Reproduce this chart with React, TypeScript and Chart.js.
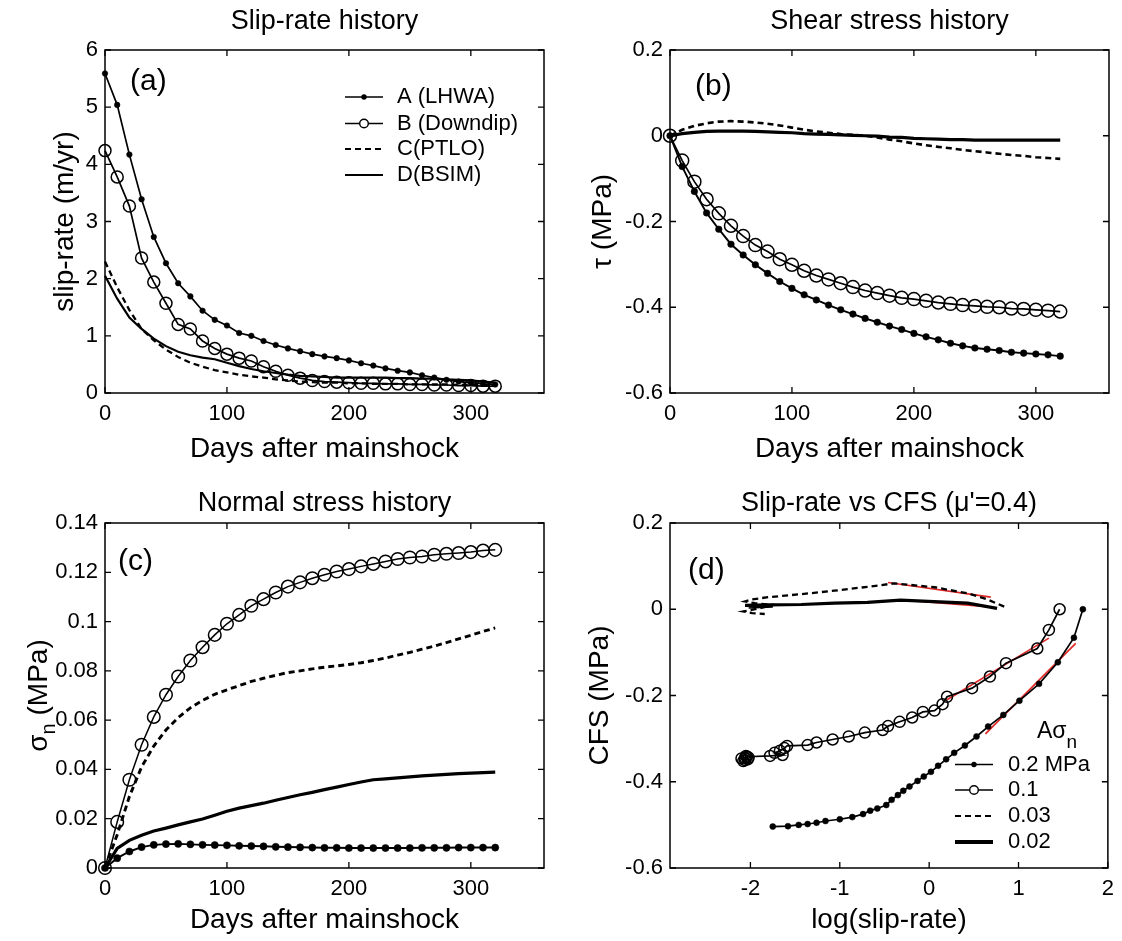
import React, { useEffect, useRef } from 'react';
import { Chart, registerables } from 'chart.js';

Chart.register(...registerables);

const FONT = "'Liberation Sans', Arial, Helvetica, sans-serif";
Chart.defaults.font.family = FONT;
Chart.defaults.color = '#000';

// ---------------- data ----------------
const days = [0, 10, 20, 30, 40, 50, 60, 70, 80, 90, 100, 110, 120, 130, 140, 150, 160, 170, 180, 190, 200, 210, 220, 230, 240, 250, 260, 270, 280, 290, 300, 310, 320];

// (a) slip-rate (m/yr)
const slipA = [5.59, 5.04, 4.17, 3.39, 2.73, 2.27, 1.92, 1.69, 1.44, 1.28, 1.18, 1.05, 1.0, 0.91, 0.84, 0.78, 0.73, 0.68, 0.64, 0.61, 0.57, 0.52, 0.48, 0.43, 0.39, 0.36, 0.31, 0.27, 0.23, 0.2, 0.18, 0.16, 0.15];
const slipB = [4.24, 3.78, 3.27, 2.36, 1.94, 1.57, 1.2, 1.12, 0.91, 0.78, 0.68, 0.61, 0.56, 0.46, 0.38, 0.31, 0.26, 0.22, 0.2, 0.19, 0.18, 0.17, 0.17, 0.16, 0.16, 0.15, 0.15, 0.14, 0.14, 0.13, 0.13, 0.12, 0.12];
const slipC = [2.3, 1.85, 1.45, 1.12, 0.92, 0.76, 0.63, 0.53, 0.46, 0.4, 0.36, 0.32, 0.29, 0.27, 0.24, 0.22, 0.2, 0.19, 0.18, 0.18, 0.17, 0.17, 0.16, 0.16, 0.16, 0.15, 0.15, 0.15, 0.15, 0.14, 0.14, 0.14, 0.14];
const slipD = [2.05, 1.65, 1.32, 1.12, 0.95, 0.82, 0.72, 0.66, 0.62, 0.59, 0.53, 0.47, 0.42, 0.38, 0.35, 0.32, 0.3, 0.29, 0.28, 0.27, 0.27, 0.27, 0.27, 0.27, 0.26, 0.26, 0.25, 0.25, 0.24, 0.23, 0.22, 0.2, 0.18];

// (b) shear stress (MPa)
const tauA = [0, -0.072, -0.13, -0.18, -0.218, -0.253, -0.278, -0.301, -0.321, -0.34, -0.356, -0.371, -0.383, -0.395, -0.406, -0.416, -0.426, -0.435, -0.444, -0.452, -0.461, -0.469, -0.476, -0.484, -0.49, -0.495, -0.498, -0.501, -0.505, -0.507, -0.509, -0.511, -0.514];
const tauB = [0, -0.058, -0.107, -0.148, -0.181, -0.21, -0.234, -0.255, -0.27, -0.288, -0.301, -0.315, -0.326, -0.335, -0.344, -0.353, -0.361, -0.367, -0.373, -0.378, -0.381, -0.385, -0.389, -0.392, -0.395, -0.397, -0.399, -0.4, -0.403, -0.404, -0.406, -0.408, -0.41];
const tauC = [0, 0.014, 0.023, 0.029, 0.033, 0.034, 0.033, 0.031, 0.028, 0.024, 0.019, 0.014, 0.01, 0.007, 0.004, 0.002, 0.0, -0.004, -0.009, -0.013, -0.018, -0.022, -0.026, -0.029, -0.033, -0.036, -0.039, -0.042, -0.045, -0.047, -0.05, -0.052, -0.054];
const tauD = [0, 0.005, 0.008, 0.01, 0.011, 0.011, 0.011, 0.01, 0.009, 0.008, 0.007, 0.005, 0.004, 0.003, 0.002, 0.001, 0.0, -0.001, -0.003, -0.004, -0.006, -0.007, -0.008, -0.009, -0.009, -0.01, -0.01, -0.01, -0.01, -0.01, -0.01, -0.01, -0.01];

// (c) normal stress (MPa)
const sigA = [0, 0.004, 0.0067, 0.0085, 0.0094, 0.0097, 0.0098, 0.0096, 0.0094, 0.0093, 0.0092, 0.009, 0.0089, 0.0088, 0.0086, 0.0085, 0.0084, 0.0083, 0.0082, 0.0082, 0.0081, 0.0081, 0.0081, 0.0081, 0.0081, 0.0081, 0.0082, 0.0082, 0.0082, 0.0083, 0.0083, 0.0083, 0.0083];
const sigB = [0, 0.0187, 0.0358, 0.05, 0.0613, 0.0703, 0.0777, 0.0842, 0.0896, 0.0946, 0.0991, 0.1027, 0.1064, 0.1091, 0.1118, 0.1142, 0.1159, 0.1176, 0.119, 0.1203, 0.1213, 0.1224, 0.1234, 0.1244, 0.1254, 0.126, 0.1264, 0.1271, 0.1275, 0.1278, 0.1282, 0.1288, 0.1291];
const sigC = [0, 0.0135, 0.029, 0.041, 0.0495, 0.056, 0.061, 0.065, 0.068, 0.0705, 0.0723, 0.074, 0.0757, 0.077, 0.0782, 0.0793, 0.08, 0.0808, 0.0815, 0.082, 0.0826, 0.0833, 0.0842, 0.0852, 0.0864, 0.0875, 0.0888, 0.09, 0.0915, 0.093, 0.0944, 0.096, 0.0974];
const sigD = [0, 0.008, 0.0112, 0.0133, 0.015, 0.0162, 0.0175, 0.0187, 0.0199, 0.0214, 0.023, 0.0243, 0.0253, 0.0263, 0.0275, 0.0286, 0.0297, 0.0307, 0.0318, 0.0328, 0.0339, 0.0349, 0.0358, 0.0362, 0.0366, 0.037, 0.0374, 0.0377, 0.038, 0.0383, 0.0385, 0.0387, 0.0389];

// (d) log(slip-rate) vs CFS
const logRateA = [1.72, 1.62, 1.44, 1.23, 1.01, 0.83, 0.66, 0.53, 0.4, 0.28, 0.19, 0.1, 0.02, -0.06, -0.13, -0.22, -0.29, -0.35, -0.42, -0.48, -0.58, -0.66, -0.74, -0.86, -1.0, -1.16, -1.26, -1.36, -1.46, -1.58, -1.75];
const cfsA = [0, -0.066, -0.123, -0.173, -0.212, -0.245, -0.272, -0.295, -0.316, -0.333, -0.348, -0.363, -0.377, -0.388, -0.398, -0.411, -0.421, -0.431, -0.442, -0.454, -0.462, -0.467, -0.475, -0.482, -0.487, -0.491, -0.495, -0.498, -0.5, -0.503, -0.504];
const logRateB = [1.46, 1.34, 1.21, 0.86, 0.68, 0.48, 0.2, 0.15, 0.06, -0.07, -0.19, -0.33, -0.46, -0.52, -0.72, -0.9, -1.08, -1.26, -1.36, -1.59, -1.62, -1.67, -1.73, -1.64, -1.78, -2.04, -2.1, -2.06, -2.02, -2.08, -2.05, -2.03, -2.06];
const cfsB = [0, -0.048, -0.091, -0.125, -0.156, -0.183, -0.203, -0.22, -0.235, -0.238, -0.251, -0.261, -0.271, -0.28, -0.286, -0.295, -0.302, -0.309, -0.315, -0.317, -0.322, -0.328, -0.333, -0.338, -0.34, -0.342, -0.346, -0.35, -0.344, -0.352, -0.34, -0.348, -0.345];
const logRateC = [0.84, 0.65, 0.43, 0.06, -0.39, -0.69, -1.06, -1.43, -1.8, -1.98, -2.06, -1.95, -1.74, -1.88, -2.08, -1.98, -1.84];
const cfsC = [0.006, 0.023, 0.037, 0.051, 0.06, 0.052, 0.043, 0.035, 0.028, 0.023, 0.018, 0.014, 0.01, 0.003, -0.005, -0.009, -0.011];
const logRateD = [0.76, 0.43, -0.32, -0.69, -1.06, -1.43, -1.8, -2.06, -1.75, -2.02];
const cfsD = [0.002, 0.014, 0.021, 0.016, 0.014, 0.011, 0.01, 0.009, 0.007, 0.005];

// red straight-line fits in (d)
const fitAx = [0.63, 1.64];
const fitAy = [-0.289, -0.079];
const fitBx = [0.2, 1.34];
const fitBy = [-0.21, -0.067];
const fitCx = [-0.46, 0.69];
const fitCy = [0.062, 0.028];
const fitDx = [-0.28, 0.65];
const fitDy = [0.021, 0.006];

// tick values & labels
const dayTicks = [0, 100, 200, 300];
const dayTickLabels = ['0', '100', '200', '300'];
const slipTicks = [0, 1, 2, 3, 4, 5, 6];
const slipTickLabels = ['0', '1', '2', '3', '4', '5', '6'];
const stressTicks = [-0.6, -0.4, -0.2, 0, 0.2];
const stressTickLabels = ['-0.6', '-0.4', '-0.2', '0', '0.2'];
const sigmaTicks = [0, 0.02, 0.04, 0.06, 0.08, 0.1, 0.12, 0.14];
const sigmaTickLabels = ['0', '0.02', '0.04', '0.06', '0.08', '0.1', '0.12', '0.14'];
const logTicks = [-2, -1, 0, 1, 2];
const logTickLabels = ['-2', '-1', '0', '1', '2'];

const seriesNames = ['A (LHWA)', 'B (Downdip)', 'C(PTLO)', 'D(BSIM)'];
const stressNames = ['0.2 MPa', '0.1', '0.03', '0.02'];

// ---------------- helpers ----------------
const xy = (xs: number[], ys: number[]) => xs.map((x, i) => ({ x, y: ys[i] }));

const base = { showLine: true, tension: 0, fill: false, clip: false as any, borderColor: '#000', pointHoverRadius: 0 };

function dotSeries(label: string, xs: number[], ys: number[], r: number, lw: number) {
  return { ...base, label, data: xy(xs, ys), borderWidth: lw, pointRadius: r, pointBackgroundColor: '#000', pointBorderColor: '#000', pointBorderWidth: 0.5, mk: 'dot' };
}
function ringSeries(label: string, xs: number[], ys: number[], r: number, lw: number) {
  return { ...base, label, data: xy(xs, ys), borderWidth: lw, pointRadius: r, pointBackgroundColor: 'rgba(0,0,0,0)', pointBorderColor: '#000', pointBorderWidth: 1.5, mk: 'ring' };
}
function dashSeries(label: string, xs: number[], ys: number[], lw: number) {
  return { ...base, label, data: xy(xs, ys), borderWidth: lw, borderDash: [6, 4], pointRadius: 0, mk: 'none' };
}
function solidSeries(label: string, xs: number[], ys: number[], lw: number) {
  return { ...base, label, data: xy(xs, ys), borderWidth: lw, pointRadius: 0, mk: 'none' };
}
function redSeries(xs: number[], ys: number[]) {
  return { ...base, label: '', data: xy(xs, ys), borderColor: '#e02828', borderWidth: 1.7, pointRadius: 0, mk: 'none' };
}

type Part = { t: string; size: number; dy: number };

function drawParts(ctx: CanvasRenderingContext2D, parts: Part[], x: number, y: number, rotate: boolean) {
  ctx.save();
  ctx.translate(x, y);
  if (rotate) ctx.rotate(-Math.PI / 2);
  const widths = parts.map((p) => {
    ctx.font = `${p.size}px ${FONT}`;
    return ctx.measureText(p.t).width;
  });
  const total = widths.reduce((s, w) => s + w, 0);
  let cx = rotate ? -total / 2 : 0;
  ctx.textBaseline = 'alphabetic';
  ctx.textAlign = 'left';
  ctx.fillStyle = '#000';
  parts.forEach((p, i) => {
    ctx.font = `${p.size}px ${FONT}`;
    ctx.fillText(p.t, cx, p.dy);
    cx += widths[i];
  });
  ctx.restore();
}

function makeDecor(spec: any) {
  return {
    id: 'decor',
    afterDraw(chart: any) {
      const { ctx, chartArea: a, scales } = chart;
      const xs = scales.x;
      const ys = scales.y;
      ctx.save();
      ctx.strokeStyle = '#000';
      ctx.lineWidth = 1.5;
      ctx.setLineDash([]);
      ctx.strokeRect(a.left, a.top, a.right - a.left, a.bottom - a.top);
      ctx.lineWidth = 1.3;
      const TL = 6;
      ctx.beginPath();
      for (const v of spec.xTicks) {
        const p = xs.getPixelForValue(v);
        ctx.moveTo(p, a.bottom);
        ctx.lineTo(p, a.bottom - TL);
        ctx.moveTo(p, a.top);
        ctx.lineTo(p, a.top + TL);
      }
      for (const v of spec.yTicks) {
        const p = ys.getPixelForValue(v);
        ctx.moveTo(a.left, p);
        ctx.lineTo(a.left + TL, p);
        ctx.moveTo(a.right, p);
        ctx.lineTo(a.right - TL, p);
      }
      ctx.stroke();

      ctx.fillStyle = '#000';
      ctx.font = `30px ${FONT}`;
      ctx.textBaseline = 'middle';
      ctx.textAlign = 'left';
      ctx.fillText(spec.tag, spec.tagX, spec.tagY);

      if (spec.legend) {
        const L = spec.legend;
        L.entries.forEach((e: any) => {
          const ds = chart.data.datasets[e.ds];
          ctx.save();
          ctx.strokeStyle = '#000';
          ctx.lineWidth = e.lw;
          ctx.setLineDash(ds.borderDash || []);
          ctx.beginPath();
          ctx.moveTo(L.x0, e.y);
          ctx.lineTo(L.x1, e.y);
          ctx.stroke();
          ctx.setLineDash([]);
          const xm = (L.x0 + L.x1) / 2;
          if (ds.mk === 'dot') {
            ctx.beginPath();
            ctx.arc(xm, e.y, 2.7, 0, Math.PI * 2);
            ctx.fillStyle = '#000';
            ctx.fill();
          } else if (ds.mk === 'ring') {
            ctx.beginPath();
            ctx.arc(xm, e.y, 4.3, 0, Math.PI * 2);
            ctx.fillStyle = '#fff';
            ctx.fill();
            ctx.lineWidth = 1.4;
            ctx.stroke();
          }
          ctx.fillStyle = '#000';
          ctx.font = `${L.size}px ${FONT}`;
          ctx.textBaseline = 'middle';
          ctx.textAlign = 'left';
          ctx.fillText(ds.label, L.tx, e.y);
          ctx.restore();
        });
      }
      (spec.extras || []).forEach((t: any) => drawParts(ctx, t.parts, t.x, t.y, !!t.rotate));
      ctx.restore();
    },
  };
}

function buildConfig(spec: any): any {
  const tickFont = { family: FONT, size: 22 };
  const axisTitleFont = { family: FONT, size: 28 };
  return {
    type: 'line',
    data: { datasets: spec.datasets },
    options: {
      responsive: false,
      maintainAspectRatio: false,
      animation: false,
      events: [],
      layout: { padding: { left: 0, right: spec.padRight, top: 0, bottom: 0 } },
      plugins: {
        legend: { display: false },
        tooltip: { enabled: false },
        title: {
          display: true,
          text: spec.title,
          fullSize: false,
          color: '#000',
          font: { family: FONT, size: 27, weight: 'normal' },
          padding: { top: spec.titlePad[0], bottom: spec.titlePad[1] },
        },
      },
      scales: {
        x: {
          type: 'linear',
          min: spec.xMin,
          max: spec.xMax,
          grid: { display: false, drawTicks: false },
          border: { display: false },
          afterBuildTicks: (s: any) => {
            s.ticks = spec.xTicks.map((v: number) => ({ value: v }));
          },
          afterFit: (s: any) => {
            s.height = spec.xHeight;
          },
          ticks: {
            font: tickFont,
            color: '#000',
            padding: 8,
            maxRotation: 0,
            autoSkip: false,
            callback: (_v: any, i: number) => spec.xLabels[i],
          },
          title: {
            display: true,
            text: spec.xTitle,
            color: '#000',
            font: axisTitleFont,
            padding: { top: 0, bottom: spec.xTitlePad },
          },
        },
        y: {
          type: 'linear',
          min: spec.yMin,
          max: spec.yMax,
          grid: { display: false, drawTicks: false },
          border: { display: false },
          afterBuildTicks: (s: any) => {
            s.ticks = spec.yTicks.map((v: number) => ({ value: v }));
          },
          afterFit: (s: any) => {
            s.width = spec.yWidth;
          },
          ticks: {
            font: tickFont,
            color: '#000',
            padding: 7,
            autoSkip: false,
            callback: (_v: any, i: number) => spec.yLabels[i],
          },
          title: {
            display: !!spec.yTitle,
            text: spec.yTitle || '',
            color: '#000',
            font: axisTitleFont,
            padding: { top: spec.yTitlePad, bottom: 0 },
          },
        },
      },
    },
    plugins: [makeDecor(spec)],
  };
}

// ---------------- panels ----------------
const panelA = {
  left: 0, top: 0, width: 561, height: 470,
  title: 'Slip-rate history', titlePad: [5.4, 12.2],
  padRight: 17, yWidth: 105, xHeight: 77,
  xMin: 0, xMax: 360, xTicks: dayTicks, xLabels: dayTickLabels, xTitle: 'Days after mainshock', xTitlePad: 4.2,
  yMin: 0, yMax: 6, yTicks: slipTicks, yLabels: slipTickLabels, yTitle: 'slip-rate (m/yr)', yTitlePad: 48,
  tag: '(a)', tagX: 130, tagY: 82,
  datasets: [
    dotSeries(seriesNames[0], days, slipA, 2.8, 1.7),
    ringSeries(seriesNames[1], days, slipB, 6, 1.7),
    dashSeries(seriesNames[2], days, slipC, 2.3),
    solidSeries(seriesNames[3], days, slipD, 2.2),
  ],
  legend: {
    x0: 345, x1: 383, tx: 397, size: 22,
    entries: [
      { ds: 0, y: 97, lw: 1.6 },
      { ds: 1, y: 123.5, lw: 1.6 },
      { ds: 2, y: 149, lw: 2 },
      { ds: 3, y: 175, lw: 2 },
    ],
  },
};

const panelB = {
  left: 561, top: 0, width: 561, height: 470,
  title: 'Shear stress history', titlePad: [5.4, 12.2],
  padRight: 13, yWidth: 109, xHeight: 77,
  xMin: 0, xMax: 360, xTicks: dayTicks, xLabels: dayTickLabels, xTitle: 'Days after mainshock', xTitlePad: 4.2,
  yMin: -0.6, yMax: 0.2, yTicks: stressTicks, yLabels: stressTickLabels, yTitle: 'τ (MPa)', yTitlePad: 25,
  tag: '(b)', tagX: 134, tagY: 87,
  datasets: [
    dotSeries(seriesNames[0], days, tauA, 3.3, 1.9),
    ringSeries(seriesNames[1], days, tauB, 6.5, 1.7),
    dashSeries(seriesNames[2], days, tauC, 2.6),
    solidSeries(seriesNames[3], days, tauD, 3.2),
  ],
};

const panelC = {
  left: 0, top: 470, width: 561, height: 471,
  title: 'Normal stress history', titlePad: [17.4, 3.2],
  padRight: 17, yWidth: 105, xHeight: 73,
  xMin: 0, xMax: 360, xTicks: dayTicks, xLabels: dayTickLabels, xTitle: 'Days after mainshock', xTitlePad: 4.2,
  yMin: 0, yMax: 0.14, yTicks: sigmaTicks, yLabels: sigmaTickLabels, yTitle: null, yTitlePad: 0,
  tag: '(c)', tagX: 118, tagY: 92,
  datasets: [
    dotSeries(seriesNames[0], days, sigA, 3.6, 1.9),
    ringSeries(seriesNames[1], days, sigB, 6.3, 1.5),
    dashSeries(seriesNames[2], days, sigC, 2.9),
    solidSeries(seriesNames[3], days, sigD, 3.2),
  ],
  extras: [
    {
      rotate: true, x: 47, y: 225.5,
      parts: [
        { t: 'σ', size: 28, dy: 0 },
        { t: 'n', size: 20, dy: 8 },
        { t: ' (MPa)', size: 28, dy: 0 },
      ],
    },
  ],
};

const panelD = {
  left: 561, top: 470, width: 561, height: 471,
  title: "Slip-rate vs CFS (μ'=0.4)", titlePad: [17.4, 3.2],
  padRight: 13, yWidth: 109, xHeight: 73,
  xMin: -2.9, xMax: 2, xTicks: logTicks, xLabels: logTickLabels, xTitle: 'log(slip-rate)', xTitlePad: 4.2,
  yMin: -0.6, yMax: 0.2, yTicks: stressTicks, yLabels: stressTickLabels, yTitle: 'CFS (MPa)', yTitlePad: 22,
  tag: '(d)', tagX: 127, tagY: 101,
  datasets: [
    dotSeries(stressNames[0], logRateA, cfsA, 3, 1.7),
    ringSeries(stressNames[1], logRateB, cfsB, 5.5, 1.7),
    dashSeries(stressNames[2], logRateC, cfsC, 2.3),
    solidSeries(stressNames[3], logRateD, cfsD, 3.2),
    redSeries(fitAx, fitAy),
    redSeries(fitBx, fitBy),
    redSeries(fitCx, fitCy),
    redSeries(fitDx, fitDy),
  ],
  legend: {
    x0: 394, x1: 432, tx: 447, size: 22,
    entries: [
      { ds: 0, y: 294.5, lw: 1.6 },
      { ds: 1, y: 320, lw: 1.6 },
      { ds: 2, y: 346, lw: 2 },
      { ds: 3, y: 372, lw: 4 },
    ],
  },
  extras: [
    {
      rotate: false, x: 476, y: 268,
      parts: [
        { t: 'Aσ', size: 23, dy: 0 },
        { t: 'n', size: 19, dy: 10 },
      ],
    },
  ],
};

const panels = [panelA, panelB, panelC, panelD];

function Panel({ spec }: { spec: any }) {
  const ref = useRef<HTMLCanvasElement>(null);
  useEffect(() => {
    const c = ref.current;
    if (!c) return;
    const chart = new Chart(c, buildConfig(spec));
    return () => chart.destroy();
  }, [spec]);
  return (
    <canvas
      ref={ref}
      width={spec.width}
      height={spec.height}
      style={{ position: 'absolute', left: spec.left, top: spec.top, width: spec.width, height: spec.height }}
    />
  );
}

export default function App() {
  return (
    <div style={{ position: 'absolute', left: 0, top: 0, width: 1122, height: 941, background: '#fff', overflow: 'hidden' }}>
      {panels.map((p, i) => (
        <Panel key={i} spec={p} />
      ))}
    </div>
  );
}
